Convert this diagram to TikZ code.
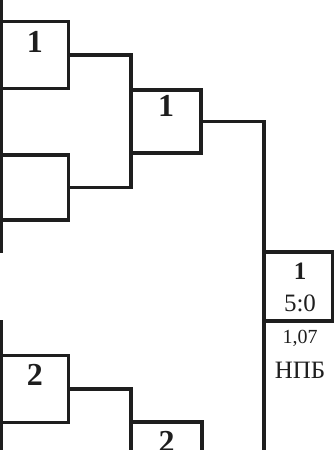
\documentclass[tikz,border=0pt]{standalone}
\usepackage{fontspec}
\setmainfont{Liberation Serif}
\usetikzlibrary{positioning}
\definecolor{ink}{RGB}{30,30,30}
\tikzset{
  cell/.style={draw=ink,line width=3.7pt,inner sep=0pt,outer sep=0pt,
    minimum width=67pt,minimum height=67pt},
  seed/.style={font=\fontsize{32}{34}\selectfont\bfseries,text=ink,inner sep=0pt},
  win/.style={font=\fontsize{25}{27}\selectfont\bfseries,text=ink,inner sep=0pt},
  score/.style={font=\fontsize{25}{27}\selectfont,text=ink,inner sep=0pt},
  link/.style={draw=ink,line width=3.7pt},
}
\begin{document}
\begin{tikzpicture}[x=1pt,y=-1pt]
  \useasboundingbox (0,0) rectangle (334,450);
  % first round
  \node[cell] (r1a) at (35,55) {};
  \node[cell,minimum height=65pt] (r1b) at (35,187.5) {};
  \node[cell] (r1c) at (35,389) {};
  % second round
  \node[cell,minimum width=70pt,minimum height=63pt] (r2a) at (166,121.5) {};
  \node[cell,minimum width=71pt,minimum height=63pt] (r2b) at (166.5,453.5) {};
  % final
  \node[cell,minimum width=69pt,minimum height=69pt] (fin) at (298.5,286.5) {};
  \node[seed] (r1a-t) at ([yshift=-20pt]r1a.north) {1};
  \node[seed] (r1c-t) at ([yshift=-19.5pt]r1c.north) {2};
  \node[seed] (r2a-t) at ([yshift=-16pt]r2a.north) {1};
  \node[seed] (r2b-t) at ([yshift=-19.5pt]r2b.north) {2};
  \node[win] (fin-t) at ([xshift=1.5pt,yshift=-19.5pt]fin.north) {1};
  \node[score] (fin-s) at ([xshift=1.5pt,yshift=-51.5pt]fin.north) {5:0};
  \node[font=\fontsize{20}{22}\selectfont,text=ink,inner sep=0pt] (fin-n) at (300,338) {1,07};
  \node[font=\fontsize{25}{27}\selectfont,text=ink,inner sep=0pt] (fin-c) at (300,370) {НПБ};
  % bracket lines
  \coordinate (lt0) at (1.5,-3);
  \coordinate (lt1) at (1.5,253);
  \coordinate (lb0) at (1.5,320);
  \coordinate (lb1) at (1.5,455);
  \coordinate (finbot) at (264,455);
  \draw[link] (lt0) -- (lt1);
  \draw[link] (lb0) -- (lb1);
  \draw[link] (r1a.east) -| (r2a.west) |- (r1b.east);
  \draw[link] (r1c.east) -| (r2b.west);
  \draw[link] (r2a.east) -| (finbot);
\end{tikzpicture}
\end{document}
